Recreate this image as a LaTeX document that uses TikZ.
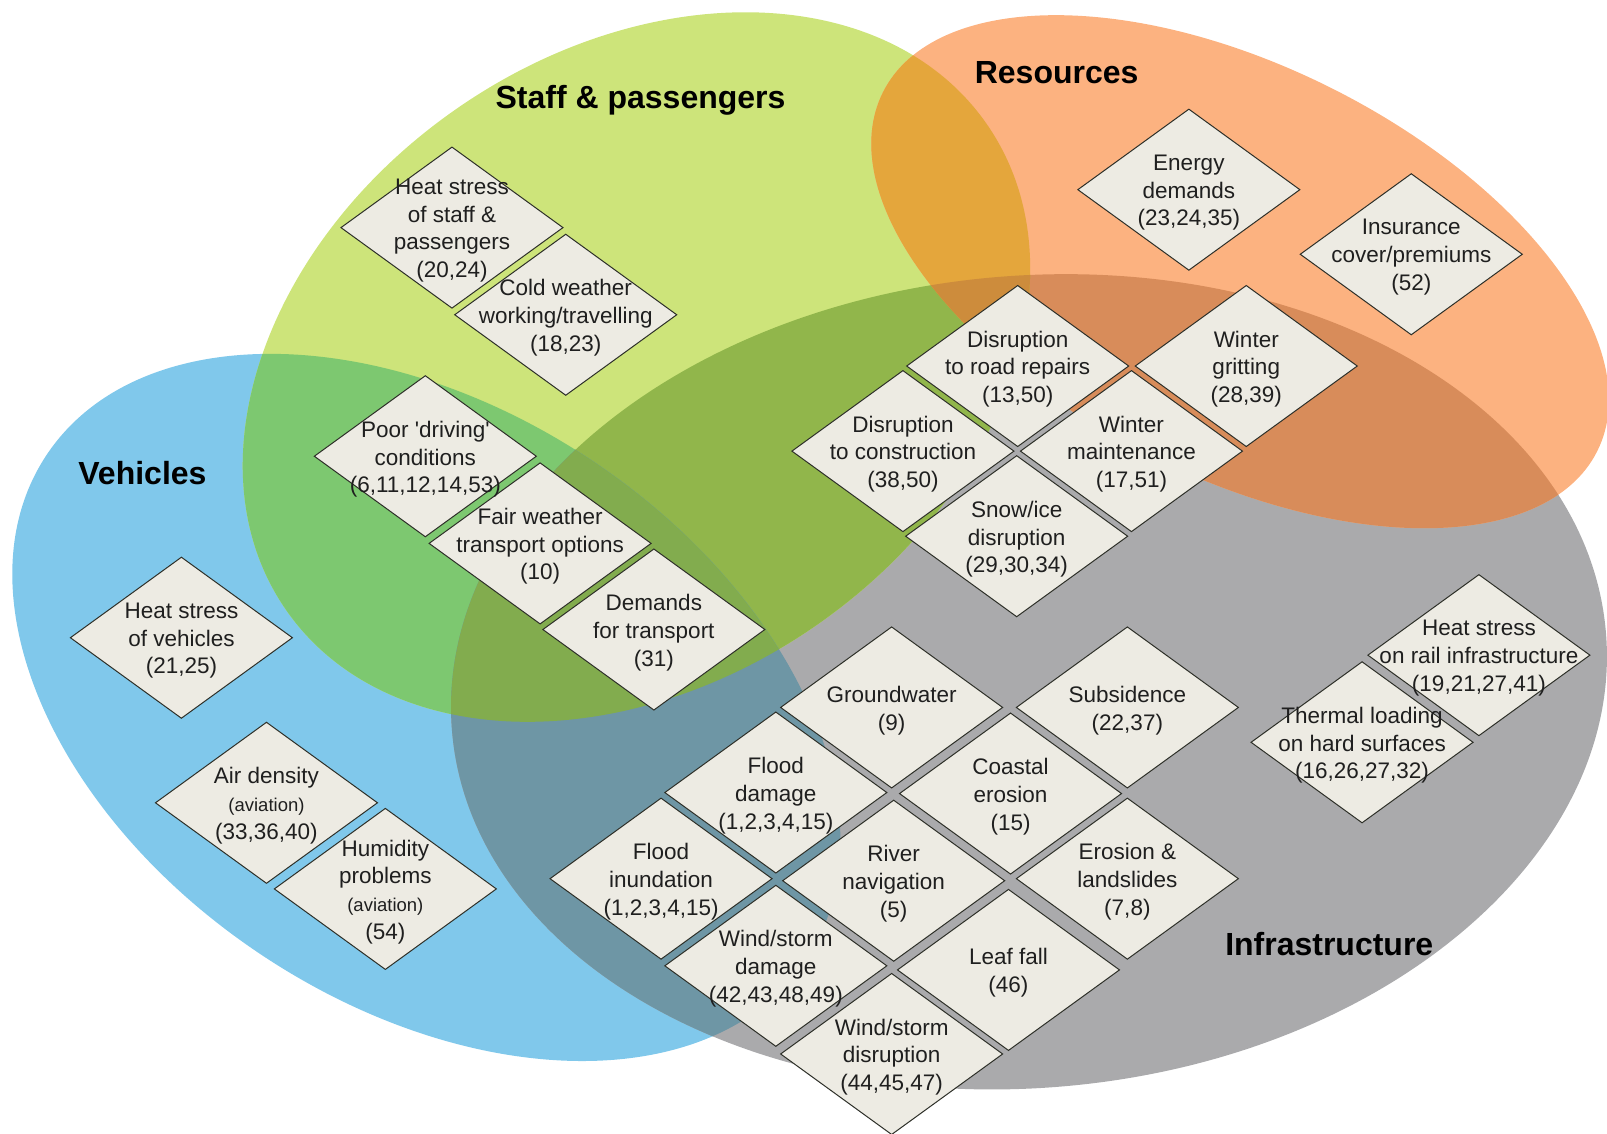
\documentclass[tikz,border=0pt]{standalone}
\usepackage{fontspec}
\setmainfont{Liberation Sans}[Ligatures=TeXOff]
\usetikzlibrary{shapes.geometric}
\definecolor{cBlue}{RGB}{128,200,235}
\definecolor{cGreen}{RGB}{205,228,122}
\definecolor{cOrange}{RGB}{252,178,128}
\definecolor{cGray}{RGB}{170,170,172}
\definecolor{cBG}{RGB}{125,200,112}
\definecolor{cBGr}{RGB}{110,150,165}
\definecolor{cGGr}{RGB}{145,182,75}
\definecolor{cBGGr}{RGB}{130,172,78}
\definecolor{cGO}{RGB}{228,166,60}
\definecolor{cOGr}{RGB}{216,140,90}
\definecolor{cGOGr}{RGB}{205,140,60}
\definecolor{boxfill}{RGB}{237,235,227}
\definecolor{boxline}{RGB}{45,47,40}
\newcommand\blueE[1]{\path[#1,rotate around={-33.6:(416,690)}] (416,690) ellipse (445 and 290);}
\newcommand\greenE[1]{\path[#1,rotate around={34.7:(621,358)}] (621,358) ellipse (416 and 307);}
\newcommand\orangeE[1]{\path[#1,rotate around={-26.7:(1210,265)}] (1210,265) ellipse (390 and 200);}
\newcommand\grayE[1]{\path[#1,rotate around={5:(1004,665)}] (1004,665) ellipse (565 and 396);}
\tikzset{
  riskbox/.style={shape=diamond, draw=boxline, fill=boxfill, line width=1pt,
    minimum width=222pt, minimum height=161pt, inner sep=0pt, outer sep=0pt},
  risktext/.style={align=center, inner sep=0pt, text=black!88, yshift=-3pt,
    font=\fontsize{22.5}{27.7}\selectfont},
  titletext/.style={inner sep=0pt, text=black, font=\fontsize{32}{38}\selectfont\bfseries},
}
\newcommand\smalltxt[1]{{\fontsize{18.5}{23}\selectfont #1}}
\begin{document}
\begin{tikzpicture}[x=1.0249pt,y=-1.0253pt]
\useasboundingbox (0,0) rectangle (1568,1106);
\begin{scope}
\clip (0,0) rectangle (1568,1106);
% base ellipses
\blueE{fill=cBlue}
\grayE{fill=cGray}
\greenE{fill=cGreen}
\orangeE{fill=cOrange}
% overlaps
\begin{scope}
  \grayE{clip}
  \orangeE{fill=cOGr}
\end{scope}
\begin{scope}
  \greenE{clip}
  \grayE{fill=cGGr}
  \orangeE{fill=cGO}
  \orangeE{clip}
  \grayE{fill=cGOGr}
\end{scope}
\begin{scope}
  \blueE{clip}
  \greenE{fill=cBG}
  \grayE{fill=cBGr}
  \greenE{clip}
  \grayE{fill=cBGGr}
\end{scope}
\end{scope}

% titles
\node[titletext] (tS) at (625,98) {Staff \& passengers};
\node[titletext] (tR) at (1031,71) {Resources};
\node[titletext] (tV) at (139,461) {Vehicles};
\node[titletext] (tI) at (1297,921) {Infrastructure};

% diamonds
\foreach \nm/\px/\py in {hsp/441/222, cww/552/307, pdc/415/445, fwt/527/530, dft/638/614,
  hsv/177/622, aden/260/783, hum/376/867, ene/1160/185, ins/1377/248,
  drr/993/357, wgr/1216/357, dcon/881/440, wmt/1104/440, sid/992/523,
  gw/870/690, sub/1100/690, fd/757/773, ce/986/774, fi/645/857, rn/872/859,
  el/1100/857, wsd/757/942, lf/984/946, wsdis/870/1028, hsr/1443/639, thl/1329/724}
  \node[riskbox] (\nm) at (\px,\py) {};

% texts
\node[risktext] (hsp-t) at (hsp) {Heat stress\\of staff \&\\passengers\\(20,24)};
\node[risktext] (cww-t) at (cww) {Cold weather\\working/travelling\\(18,23)};
\node[risktext] (pdc-t) at (pdc) {Poor 'driving'\\conditions\\(6,11,12,14,53)};
\node[risktext] (fwt-t) at (fwt) {Fair weather\\transport options\\(10)};
\node[risktext] (dft-t) at (dft) {Demands\\for transport\\(31)};
\node[risktext] (hsv-t) at (hsv) {Heat stress\\of vehicles\\(21,25)};
\node[risktext] (aden-t) at (aden) {Air density\\\smalltxt{(aviation)}\\(33,36,40)};
\node[risktext] (hum-t) at (hum) {Humidity\\problems\\\smalltxt{(aviation)}\\(54)};
\node[risktext] (ene-t) at (ene) {Energy\\demands\\(23,24,35)};
\node[risktext] (ins-t) at (ins) {Insurance\\cover/premiums\\(52)};
\node[risktext] (drr-t) at (drr) {Disruption\\to road repairs\\(13,50)};
\node[risktext] (wgr-t) at (wgr) {Winter\\gritting\\(28,39)};
\node[risktext] (dcon-t) at (dcon) {Disruption\\to construction\\(38,50)};
\node[risktext] (wmt-t) at (wmt) {Winter\\maintenance\\(17,51)};
\node[risktext] (sid-t) at (sid) {Snow/ice\\disruption\\(29,30,34)};
\node[risktext] (gw-t) at (gw) {Groundwater\\(9)};
\node[risktext] (sub-t) at (sub) {Subsidence\\(22,37)};
\node[risktext] (fd-t) at (fd) {Flood\\damage\\(1,2,3,4,15)};
\node[risktext] (ce-t) at (ce) {Coastal\\erosion\\(15)};
\node[risktext] (fi-t) at (fi) {Flood\\inundation\\(1,2,3,4,15)};
\node[risktext] (rn-t) at (rn) {River\\navigation\\(5)};
\node[risktext] (el-t) at (el) {Erosion \&\\landslides\\(7,8)};
\node[risktext] (wsd-t) at (wsd) {Wind/storm\\damage\\(42,43,48,49)};
\node[risktext] (lf-t) at (lf) {Leaf fall\\(46)};
\node[risktext] (wsdis-t) at (wsdis) {Wind/storm\\disruption\\(44,45,47)};
\node[risktext] (hsr-t) at (hsr) {Heat stress\\on rail infrastructure\\(19,21,27,41)};
\node[risktext] (thl-t) at (thl) {Thermal loading\\on hard surfaces\\(16,26,27,32)};
\end{tikzpicture}
\end{document}
